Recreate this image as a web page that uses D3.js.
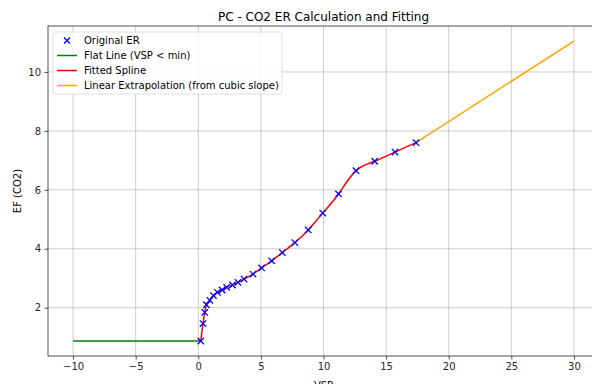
<!DOCTYPE html>
<html>
<head>
<meta charset="UTF-8" />
<title>PC - CO2 ER Calculation and Fitting</title>
<script src="https://d3js.org/d3.v7.min.js"></script>
<style>
	body { margin: 0; background: #fff; }
	svg { font-family: "DejaVu Sans", sans-serif; }
</style>
</head>
<body>
<div id="chart"></div>
<script>
	// original ER points
	var vsp = [0.2, 0.38, 0.52, 0.65, 0.92, 1.21, 1.53, 1.9, 2.27, 2.73, 3.17, 3.65, 4.37, 5.06, 5.86, 6.71, 7.71, 8.78, 9.94, 11.2, 12.6, 14.09, 15.71, 17.39];
	var er = [0.87, 1.46, 1.84, 2.1, 2.25, 2.41, 2.52, 2.6, 2.69, 2.77, 2.86, 2.97, 3.14, 3.35, 3.59, 3.87, 4.21, 4.64, 5.21, 5.86, 6.65, 6.97, 7.28, 7.6];
	var flatLine = [[-10, 0.87], [0.2, 0.87]];
	var extrapLine = [[17.39, 7.6], [30, 11.05]];
	var xTicks = [-10, -5, 0, 5, 10, 15, 20, 25, 30];
	var yTicks = [2, 4, 6, 8, 10];
	var legendItems = [
		{label: "Original ER", color: "blue", type: "x"},
		{label: "Flat Line (VSP < min)", color: "green", type: "line"},
		{label: "Fitted Spline", color: "red", type: "line"},
		{label: "Linear Extrapolation (from cubic slope)", color: "orange", type: "line"}
	];

	var W = 592, H = 384;
	var margin = {top: 26, left: 48, right: -7, bottom: 28};
	var width = W - margin.left - margin.right,
		height = H - margin.top - margin.bottom;

	var svg = d3.select("#chart").append("svg")
		.attr("width", W).attr("height", H);
	var g = svg.append("g")
		.attr("transform", "translate(" + margin.left + "," + margin.top + ")");

	var x = d3.scaleLinear().domain([-12, 32]).range([0, width]);
	var y = d3.scaleLinear().domain([0.36, 11.56]).range([height, 0]);

	// grid
	g.append("g").selectAll("line").data(xTicks).enter().append("line")
		.attr("x1", d => x(d)).attr("x2", d => x(d))
		.attr("y1", 0).attr("y2", height)
		.attr("stroke", "#b0b0b0").attr("stroke-width", 0.8).attr("stroke-opacity", 0.8);
	g.append("g").selectAll("line").data(yTicks).enter().append("line")
		.attr("y1", d => y(d)).attr("y2", d => y(d))
		.attr("x1", 0).attr("x2", width)
		.attr("stroke", "#b0b0b0").attr("stroke-width", 0.8).attr("stroke-opacity", 0.8);

	// axes
	var xAxis = g.append("g")
		.attr("transform", "translate(0," + height + ")")
		.call(d3.axisBottom(x).tickValues(xTicks).tickSize(3.5).tickPadding(3.5)
			.tickFormat(d => d < 0 ? "\u2212" + Math.abs(d) : d));
	var yAxis = g.append("g")
		.call(d3.axisLeft(y).tickValues(yTicks).tickSize(3.5).tickPadding(3.5));
	[xAxis, yAxis].forEach(function(a) {
		a.select(".domain").remove();
		a.selectAll("text").attr("font-size", 10).attr("fill", "#262626").attr("font-family", "DejaVu Sans");
		a.selectAll("line").attr("stroke", "#262626").attr("stroke-width", 0.8);
	});

	// spines
	g.append("rect")
		.attr("x", 0).attr("y", 0).attr("width", width).attr("height", height)
		.attr("fill", "none").attr("stroke", "#262626").attr("stroke-width", 0.8);

	var line = d3.line().x(d => x(d[0])).y(d => y(d[1]));

	g.append("path").datum(flatLine)
		.attr("d", line).attr("fill", "none").attr("stroke", "green").attr("stroke-width", 1.5);

	var pts = vsp.map((v, i) => [v, er[i]]);
	g.append("path").datum(pts)
		.attr("d", line.curve(d3.curveNatural))
		.attr("fill", "none").attr("stroke", "red").attr("stroke-width", 1.5);
	line.curve(d3.curveLinear);

	g.append("path").datum(extrapLine)
		.attr("d", line).attr("fill", "none").attr("stroke", "orange").attr("stroke-width", 1.5);

	// x markers
	var s = 3.2;
	g.append("g").selectAll("path").data(pts).enter().append("path")
		.attr("d", d => {
			var cx = x(d[0]), cy = y(d[1]);
			return "M" + (cx - s) + "," + (cy - s) + "L" + (cx + s) + "," + (cy + s) +
				"M" + (cx - s) + "," + (cy + s) + "L" + (cx + s) + "," + (cy - s);
		})
		.attr("stroke", "blue").attr("stroke-width", 1.3).attr("fill", "none");

	// title and labels
	svg.append("text")
		.attr("x", margin.left + width / 2).attr("y", 21)
		.attr("text-anchor", "middle").attr("font-size", 12).attr("fill", "#000")
		.text("PC - CO2 ER Calculation and Fitting");
	svg.append("text")
		.attr("x", margin.left + width / 2).attr("y", 389)
		.attr("text-anchor", "middle").attr("font-size", 10).attr("fill", "#000")
		.text("VSP");
	svg.append("text")
		.attr("transform", "translate(21," + (margin.top + height / 2) + ") rotate(-90)")
		.attr("text-anchor", "middle").attr("font-size", 10).attr("fill", "#000")
		.text("EF (CO2)");

	// legend
	var lg = svg.append("g").attr("transform", "translate(53,32)");
	lg.append("rect")
		.attr("width", 229).attr("height", 62).attr("rx", 2.5)
		.attr("fill", "#fff").attr("fill-opacity", 0.8)
		.attr("stroke", "#d6d6d6").attr("stroke-width", 0.8);
	var rows = lg.selectAll("g.item").data(legendItems).enter().append("g")
		.attr("class", "item")
		.attr("transform", (d, i) => "translate(0," + (8.5 + i * 15) + ")");
	rows.each(function(d) {
		var r = d3.select(this);
		if (d.type === "x") {
			var cx = 14, cy = 0, m = 3;
			r.append("path")
				.attr("d", "M" + (cx - m) + "," + (cy - m) + "L" + (cx + m) + "," + (cy + m) +
					"M" + (cx - m) + "," + (cy + m) + "L" + (cx + m) + "," + (cy - m))
				.attr("stroke", d.color).attr("stroke-width", 1.3);
		} else {
			r.append("line").attr("x1", 4).attr("x2", 24).attr("y1", 0).attr("y2", 0)
				.attr("stroke", d.color).attr("stroke-width", 1.5);
		}
		r.append("text").attr("x", 31).attr("y", 3.6)
			.attr("font-size", 10).attr("fill", "#000").text(d.label);
	});
</script>
</body>
</html>
